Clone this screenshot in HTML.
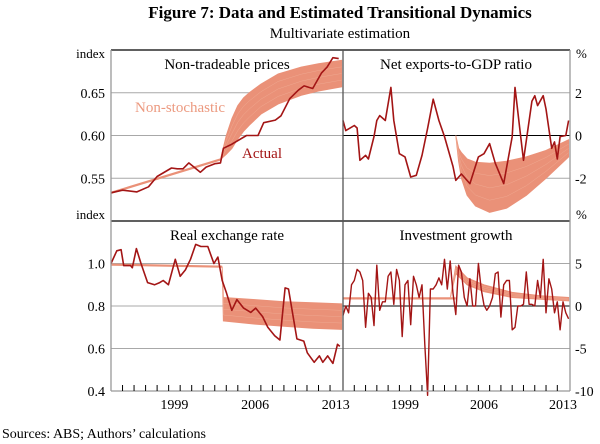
<!DOCTYPE html>
<html><head><meta charset="utf-8"><style>
html,body{margin:0;padding:0;background:#fff;}
svg{display:block;font-family:"Liberation Serif",serif;}
</style></head><body>
<svg id="c" width="600" height="444" viewBox="0 0 600 444" xmlns="http://www.w3.org/2000/svg">
<text x="340" y="18" text-anchor="middle" font-size="17" font-weight="bold">Figure 7: Data and Estimated Transitional Dynamics</text>
<text x="340" y="38" text-anchor="middle" font-size="15">Multivariate estimation</text>
<text x="2" y="438" font-size="14">Sources:  ABS; Authors’ calculations</text>
<g id="g"></g>
</svg>
<script>
// ---- data (quarter index since 1994Q1) ----
const ntQ=[0,4,9,13,16,21,23,25,27,31,33,36,38,39,42,47,51,53,57,59,62,65,67,70,73,75,77,79];
const ntV=[0.533,0.536,0.534,0.540,0.552,0.562,0.561,0.561,0.568,0.557,0.563,0.567,0.568,0.585,0.590,0.600,0.600,0.615,0.618,0.623,0.643,0.653,0.658,0.655,0.673,0.680,0.691,0.690];
const ntBandQ=[38,40,42,44,46,48,52,58,66,72,80];
const ntBandHi=[0.572,0.600,0.620,0.635,0.644,0.650,0.660,0.672,0.680,0.684,0.688];
const ntBandLo=[0.572,0.578,0.585,0.596,0.605,0.612,0.625,0.637,0.647,0.652,0.657];
const ntPreQ=[0,38];
const ntPreV=[0.533,0.572];

const neQ=[0,1,4,5,6,8,9,11,12,13,15,17,18,20,22,24,26,28,30,32,34,36,39,40,42,45,48,50,52,54,57,60,61,63,64,67,68,69,71,72,74,75,76,77,79,80];
const neV=[0.7,0.23,0.47,0.35,-1.16,-0.93,-1.1,-0.05,0.7,0.93,0.7,2.25,0.7,-0.85,-1.0,-1.94,-1.86,-0.93,0.33,1.7,0.7,-0.05,-1.45,-2.1,-1.8,-2.25,-1.0,-0.85,-0.38,-1.3,-2.25,-0.05,2.25,-0.05,-1.16,1.6,1.86,1.4,1.86,1.24,-0.6,-0.3,-1.1,-0.05,0.0,0.7];
const neBandQ=[40,41,42,44,47,52,58,65,72,80];
const neBandHi=[0,-0.6,-0.8,-1.1,-1.25,-1.3,-1.2,-1.0,-0.7,-0.2];
const neBandLo=[0,-1.2,-2.0,-2.8,-3.3,-3.6,-3.4,-2.8,-2.0,-1.0];

const rerQ=[0,2,3.5,4.4,6.8,7.4,8.8,10.4,12.7,15.1,16.9,18.1,19.9,22.3,24,25.8,27.6,29.4,31.2,33.6,35.7,37.1,38.6,40.1,41.9,43.7,46,48.5,50.2,52.6,54.4,56.8,58.6,60.4,61.6,64.5,66.9,68.1,70.5,72.3,73.5,75.2,77,78.6,79.4];
const rerV=[1.0,1.06,1.065,0.99,0.99,0.98,1.07,1.0,0.91,0.90,0.91,0.92,0.90,1.02,0.94,0.97,1.02,1.09,1.08,1.08,1.0,1.03,0.92,0.86,0.78,0.83,0.79,0.77,0.79,0.75,0.70,0.66,0.64,0.885,0.88,0.645,0.635,0.58,0.535,0.565,0.535,0.565,0.53,0.62,0.61];
const rerPreQ=[0,38.6];
const rerPreV=[0.995,0.985];
const rerBandQ=[38.6,39,50,60,70,80];
const rerBandHi=[0.985,0.84,0.83,0.82,0.815,0.81];
const rerBandLo=[0.985,0.73,0.715,0.705,0.695,0.69];

const igV=[-1.1,0,-0.8,2.5,3.0,4.3,4.0,3,-2.5,1.5,1.0,-2.3,4.8,-0.5,0.5,0.5,3.5,4,0.2,4.3,3,-3.6,2.5,3,-2.2,3.5,2.5,1,2.5,-4.5,-10.5,2,2,2.5,3.3,2.5,5.5,2,5.3,1.5,-1,4.8,4,1,0,3.2,0,0,5,2,0.1,-0.5,0,1,3.8,4,-1.3,2.5,3,3,-2.8,-2.5,0,0,0.2,4,0.2,0.2,0,3,1,5.5,-0.8,3.2,2,-0.8,0.5,-2.8,0.5,-0.8,-1.5];
const igPreQ=[0,40];
const igPreV=[0.9,0.9];
const igBandQ=[38,40,44,50,60,70,80];
const igBandHi=[0.9,4.7,3.3,2.5,1.6,1.2,1.0];
const igBandLo=[0.9,3.8,2.5,1.7,1.0,0.8,0.6];

const leftTicksTop=[0.55,0.60,0.65];
const rightTicksTop=[-2,0,2];
const leftTicksBot=[0.4,0.6,0.8,1.0];
const rightTicksBot=[-10,-5,0,5];
const yearLabels=[1999,2006,2013];

// ---- layout ----
const NS="http://www.w3.org/2000/svg";
const G=document.getElementById('g');
const XL0=111,XM=343,XR=570,YT=50,YM=221,YB=391;
const RED="#a31515",BAND="#ea9178";
function mk(tag,attrs,parent){const e=document.createElementNS(NS,tag);for(const k in attrs)e.setAttribute(k,attrs[k]);(parent||G).appendChild(e);return e;}
function xs(x0,x1){return q=>x0+(q/80.5)*(x1-x0);}
function ys(y0,y1,v0,v1){return v=>y1-(v-v0)/(v1-v0)*(y1-y0);}
function pts(Q,V,X,Y){return Q.map((q,i)=>X(q).toFixed(1)+','+Y(V[i]).toFixed(1)).join(' ');}
function band(Q,H,L,X,Y,name){
  const p=pts(Q,H,X,Y)+' '+pts(Q.slice().reverse(),L.slice().reverse(),X,Y);
  const e=mk('polygon',{points:p,fill:BAND,stroke:BAND,'stroke-width':1});
  
  
  for(let k=1;k<4;k++){const M=H.map((h,i)=>h+(L[i]-h)*k/4);
    const l=mk('polyline',{points:pts(Q,M,X,Y),fill:'none',stroke:'#f0a890','stroke-width':0.5});
    
    }
}
function line(Q,V,X,Y,col,w,name){const e=mk('polyline',{points:pts(Q,V,X,Y),fill:'none',stroke:col,'stroke-width':w,'stroke-linejoin':'round'});
  
  }
function grid(ticks,Y,x0,x1,zero,name){ticks.forEach(t=>{const e=mk('line',{x1:x0,x2:x1,y1:Y(t),y2:Y(t),stroke:(zero&&t===0)?'#000':'#a8a8a8','stroke-width':1});
  
  });}
function labels(ticks,Y,x,anchor,fmt,name){ticks.forEach(t=>{const e=mk('text',{x:x,y:Y(t)+5,'text-anchor':anchor,'font-size':14});e.textContent=fmt(t);
  
  });}

const XLt=xs(XL0,XM), XRt=xs(XM,XR);
const Ynt=ys(YT,YM,0.5,0.7), Yne=ys(YT,YM,-4,4), Yrer=ys(YM,YB,0.4,1.2), Yig=ys(YM,YB,-10,10);

grid(leftTicksTop,Ynt,XL0,XM,false,'gridline-nt');
grid(rightTicksTop,Yne,XM,XR,true,'gridline-ne');
grid(leftTicksBot.filter(t=>t>0.45),Yrer,XL0,XM,false,'gridline-rer');
grid(rightTicksBot.filter(t=>t>-9),Yig,XM,XR,true,'gridline-ig');

band(ntBandQ,ntBandHi,ntBandLo,XLt,Ynt,'nt-nonstochastic-band');
line(ntPreQ,ntPreV,XLt,Ynt,BAND,2.2,'nt-nonstochastic-pre');
line(ntQ,ntV,XLt,Ynt,RED,1.6,'nt-actual-line');
band(neBandQ,neBandHi,neBandLo,XRt,Yne,'ne-nonstochastic-band');
line(neQ,neV,XRt,Yne,RED,1.6,'ne-actual-line');
band(rerBandQ,rerBandHi,rerBandLo,XLt,Yrer,'rer-nonstochastic-band');
line(rerPreQ,rerPreV,XLt,Yrer,BAND,2.2,'rer-nonstochastic-pre');
line(rerQ,rerV,XLt,Yrer,RED,1.6,'rer-actual-line');
line(igPreQ,igPreV,XRt,Yig,BAND,2.2,'ig-nonstochastic-pre');
band(igBandQ,igBandHi,igBandLo,XRt,Yig,'ig-nonstochastic-band');
line(igV.map((v,i)=>i),igV,XRt,Yig,RED,1.4,'ig-actual-line');

[[XL0,YT,XR,YT,'#000'],[XL0,YM,XR,YM,'#000'],[XL0,YT,XL0,YB,'#999'],[XR,YT,XR,YB,'#999'],[XM,YT,XM,YB,'#555'],[XL0,YB,XR,YB,'#999']].forEach(a=>{
  const e=mk('line',{x1:a[0],y1:a[1],x2:a[2],y2:a[3],stroke:a[4],'stroke-width':1.3});
  
  });
for(let q=4;q<80;q+=4){[XLt,XRt].forEach(X=>{const e=mk('line',{x1:X(q),x2:X(q),y1:YB,y2:YB-6,stroke:'#000','stroke-width':1});
  
  });}
yearLabels.forEach(yr=>{[XLt,XRt].forEach(X=>{const e=mk('text',{x:X((yr-1994)*4+2),y:YB+18,'text-anchor':'middle','font-size':14});e.textContent=yr;
  
  });});

labels(leftTicksTop,Ynt,105,'end',t=>t.toFixed(2),'y-left-tick-label-top');
labels(rightTicksTop,Yne,575,'start',t=>t<0?'-'+Math.abs(t):String(t),'y-right-tick-label-top');
labels(leftTicksBot,Yrer,105,'end',t=>t.toFixed(1),'y-left-tick-label-bottom');
labels(rightTicksBot,Yig,575,'start',t=>t<0?'-'+Math.abs(t):String(t),'y-right-tick-label-bottom');

function txt(x,y,s,size,anchor,col,name){const e=mk('text',{x:x,y:y,'font-size':size,'text-anchor':anchor,fill:col||'#000'});e.textContent=s;
  
  }
txt(105,58,'index',13,'end','#000','y-unit-top-left');
txt(105,219,'index',13,'end','#000','y-unit-bottom-left');
txt(576,58,'%',13,'start','#000','y-unit-top-right');
txt(576,219,'%',13,'start','#000','y-unit-bottom-right');
txt(227,69,'Non-tradeable prices',15,'middle','#000','panel-title-nt');
txt(456,69,'Net exports-to-GDP ratio',15,'middle','#000','panel-title-ne');
txt(227,240,'Real exchange rate',15,'middle','#000','panel-title-rer');
txt(456,240,'Investment growth',15,'middle','#000','panel-title-ig');
txt(135,112,'Non-stochastic',15,'start','#ec9a80','label-non-stochastic');
txt(242,158,'Actual',15,'start',RED,'label-actual');
</script>
</body></html>
